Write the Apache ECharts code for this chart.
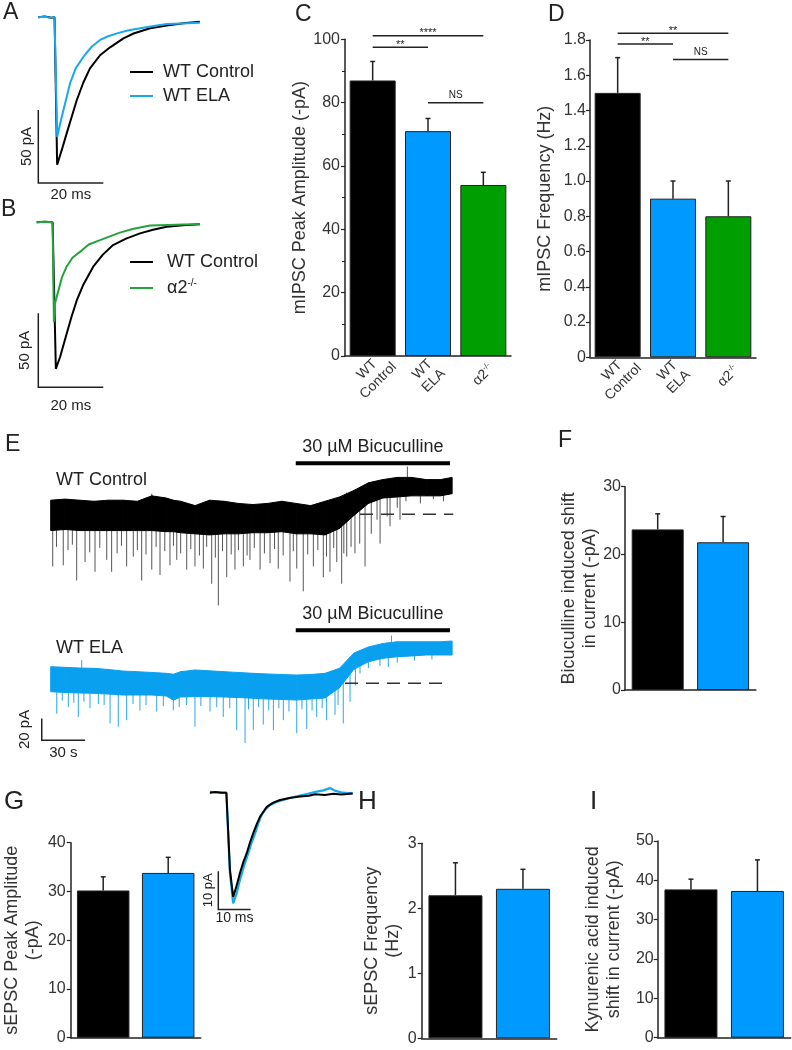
<!DOCTYPE html>
<html><head><meta charset="utf-8">
<script src="https://cdn.jsdelivr.net/npm/echarts@6/dist/echarts.min.js"></script>
<style>html,body{margin:0;padding:0;background:#fff}#c{width:792px;height:1050px}</style>
</head><body><div id="c"></div>
<script>
// ================= DATA =================
// Panels C, D (three groups)
const groups3 = ['WT\nControl', 'WT\nELA', 'α2-/-'];
const cMean = [87, 71, 54];
const cErr  = [93, 75, 58];
const dMean = [1.5, 0.9, 0.8];
const dErr  = [1.7, 1.0, 1.0];
// significance brackets: [fromGroup, toGroup, level]
const cSig = [[0, 2, 101.1], [0, 1, 97.5], [1, 2, 80]];
const cSigText = ['****', '**', 'NS'];
const dSig = [[0, 2, 1.839], [0, 1, 1.777], [1, 2, 1.69]];
const dSigText = ['**', '**', 'NS'];
// Panels F, G, H, I (two groups)
const groups2 = ['WT Control', 'WT ELA'];
const fMean = [23.7, 21.8], fErr = [26.0, 25.6];
const gMean = [30.2, 33.8], gErr = [33, 37];
const hMean = [2.2, 2.3],   hErr = [2.7, 2.6];
const iMean = [37.7, 37.3], iErr = [40.3, 45.2];
// Panel A traces [ms, pA]
const aControl = [[0,0],[2,0.5],[4,-0.3],[5,0],[5.8,-101],[7.2,-91],[8.8,-79],[10.3,-68],[11.8,-57],[13.8,-45],[15.9,-35],[19,-26],[22.2,-20.4],[26.2,-14.4],[29.3,-11.1],[34.4,-7.5],[39.5,-5.7],[44.6,-4.1],[49.7,-3]];
const aELA = [[0,0],[2,0.3],[4,-0.4],[5,0],[5.8,-82],[6.8,-72],[7.8,-63],[8.8,-54],[9.8,-45],[11.5,-35],[13.9,-27],[16.5,-20],[19,-15.5],[21.5,-13],[24.2,-11],[27.5,-9],[31.4,-7.5],[35.5,-6],[39.6,-4.6],[44,-4.2],[49.7,-3.7]];
// Panel B traces [ms, pA]
const bControl = [[-0.5,0],[2,0.3],[4.4,0],[5.4,-99],[6.7,-91],[8.7,-75.5],[10.2,-64],[11.8,-53],[13.8,-42.4],[16.9,-30],[19.8,-22],[23,-15.4],[27,-11],[31.3,-7.5],[35.3,-5],[39.5,-3],[44.5,-2],[49.7,-1.4]];
const bKO = [[-0.5,0],[2,0.3],[4.4,0],[4.8,-67.5],[5.1,-55],[6.2,-46],[7.3,-37],[8.7,-30],[10.5,-24],[12.8,-20],[15.5,-15],[19,-12],[22,-9.5],[25.1,-7],[29,-4.5],[34.4,-2.2],[40,-1.8],[44.5,-1.5],[49.7,-1.4]];
// Panel E recordings: time (s), envelope of the noise band (pA)
const eTime = [0,10,20,30,40,50,60,70,80,85,90,100,110,120,130,140,150,160,170,180,190,200,210,220,230,240,250,260,270,278];
const e1Hi = [13,14,13,12,13,13,12,17,15,13,12,8,13,12,10,9,10,12,10,8,12,16,22,29,32,34,34,32,32,34];
const e1Lo = [-15,-14,-15,-15,-15,-15,-15,-15,-16,-16,-17,-18,-19,-18,-18,-17,-17,-16,-18,-18,-19,-13,-1,10,15,16,17,17,17,19];
const e2Hi = [15.3,14.7,14.1,13.8,12.7,11.3,10.7,10,9.2,8.4,10.7,12.3,11.5,10.7,10,9.2,8.6,8.1,7.6,8.1,9.2,13.8,27.9,33.5,36.7,38.3,38.3,38.3,38.3,39];
const e2Lo = [-7.7,-8.5,-8.9,-9.2,-9.9,-10.8,-10.8,-10.8,-11.7,-15.5,-12.6,-12.3,-12.3,-12.6,-13.1,-13.8,-14.5,-14.9,-15.4,-14.5,-13.5,-4,12.9,19.9,23,24.5,25.2,26.1,26.1,26.1];
// individual events [s, tip pA]
const e1Events = [[1.4,-48],[8.7,-47],[18,-61],[23.8,-44],[30.7,-53],[38.8,-42],[42.2,-53],[52.6,-48],[57.2,-39],[63,-61],[70,-51],[75.7,-56],[82.6,-47],[87.3,-42],[94.2,-51],[99.9,-48],[105.7,-50],[111.5,-64],[116.1,-84],[121.9,-58],[127.6,-51],[133.4,-48],[138,-42],[145,-51],[151.9,-45],[157.6,-50],[165.7,-62],[170.4,-50],[174.9,-71],[181.9,-48],[188.8,-58],[193.4,-53],[198.1,-44],[201.5,-64],[205,-39],[210.7,-36],[217.7,-48],[228.1,-27],[235,-11],[241.9,-5],
  [4,-30],[12,-33],[15,-28],[27,-35],[34,-31],[46,-36],[49,-29],[60,-33],[66,-37],[73,-30],[79,-34],[85,-29],[90,-36],[97,-32],[103,-38],[108,-30],[114,-40],[119,-34],[125,-37],[130,-33],[136,-38],[141,-31],[148,-36],[155,-32],[161,-38],[168,-34],[178,-37],[185,-33],[191,-39],[196,-31],[203,-36],[208,-30],[214,-27],[222,-18],[226,-5],[233,-2],[240,6],[246,12],[256,10],[265,14],[272,12],
  [247,44],[70,19],[205,20]];
const e2Events = [[4.2,-28],[12.2,-22],[19.1,-31],[27.2,-23],[41.1,-37],[46.8,-40],[52.6,-34],[61.8,-25],[73.4,-26],[84.9,-25],[99.9,-40],[110.3,-26],[119.5,-31],[128.8,-43],[134.6,-55],[140.3,-43],[147.2,-38],[154.2,-43],[161.1,-34],[170.4,-46],[177.3,-42],[184.2,-31],[191.1,-34],[196.9,-29],[202.6,-37],[207.3,-17],[214.2,9],[233.8,15],
  [8,-16],[16,-18],[23,-17],[33,-19],[37,-20],[57,-19],[66,-20],[78,-21],[89,-22],[94,-20],[104,-21],[115,-22],[124,-23],[137,-24],[144,-22],[151,-25],[158,-23],[165,-26],[174,-24],[181,-25],[188,-23],[199,-20],[211,-2],[220,14],[228,16],[240,19],[252,21],[264,22],
  [21.5,21.5],[236,44]];
const bicPeriod = [169.7, 276.5];
const e1Baseline = [[214.2,0],[278.8,0]];
const e2Baseline = [[203.8,0],[276.5,0]];
// Panel G inset traces [ms, pA]
const gInsetControl = [[-2.6,0],[-1,0.2],[1,0],[2.5,0],[3.6,-20],[4.6,-27.2],[5.6,-24.5],[6.7,-21],[7.8,-18],[8.8,-15.8],[9.8,-13],[10.8,-10.6],[11.9,-8.2],[12.9,-6.3],[14,-4.9],[15,-3.7],[17,-2.6],[19.1,-1.9],[22,-1.4],[25.3,-1],[28,-0.8],[30,-0.4],[33,-0.6],[35.6,-0.3],[38,-0.5],[41.6,-0.2]];
const gInsetELA = [[-2.6,0.2],[1,0],[2.5,0],[3.6,-21],[4.6,-28.9],[5.6,-26.5],[6.7,-22.8],[8,-19],[9.3,-15.8],[10.3,-13],[11.4,-10.6],[12.4,-8],[13.4,-5.8],[14.7,-4.3],[16,-3.2],[18,-2.4],[20.1,-1.9],[23,-1.2],[26,-0.6],[28,-0.2],[30.5,0.3],[32.5,0.6],[34.6,1.2],[36.5,0.4],[38.5,0],[41.6,-0.2]];

// ================= STYLE =================
const FONT = 'Liberation Sans, Arial, Helvetica, sans-serif';
const INK = '#222';
const COL3 = ['#000000', '#0099ff', '#009e00'];
const COL2 = ['#000000', '#0099ff'];
const TRACE_BLUE = '#18a8ee', TRACE_GREEN = '#24a33c';

const chart = echarts.init(document.getElementById('c'), null, {renderer: 'canvas'});

const grids = [
  {left: 35.05, top: 8.54,   width: 172.25, height: 176.66}, // 0 A
  {left: 35.05, top: 213.42, width: 172.25, height: 176.12}, // 1 B
  {left: 345,   top: 39.3,   width: 166,    height: 316.7},  // 2 C
  {left: 590,   top: 40,     width: 166,    height: 317.3},  // 3 D
  {left: 36.26, top: 460.05, width: 418.76, height: 151.9},  // 4 E1
  {left: 36.26, top: 623.63, width: 418.76, height: 124.78}, // 5 E2
  {left: 625,   top: 486.7,  width: 130.8,  height: 203.3},  // 6 F
  {left: 70.7,  top: 842.7,  width: 130,    height: 195},    // 7 G
  {left: 205.38,top: 781.21, width: 148.58, height: 134.05}, // 8 G inset
  {left: 421.7, top: 843.3,  width: 135,    height: 195},    // 9 H
  {left: 657.7, top: 841,    width: 133,    height: 196.7}   // 10 I
].map(g => Object.assign({containLabel: false, outerBoundsMode: 'none'}, g));

function hiddenX(gi, min, max) { return {gridIndex: gi, type: 'value', min, max, show: false}; }
function hiddenY(gi, min, max) { return {gridIndex: gi, type: 'value', min, max, show: false}; }
const richLab = {
  a: {fontSize: 14, fontFamily: FONT, color: '#333', align: 'center'},
  s: {fontSize: 8, fontFamily: FONT, color: '#333', verticalAlign: 'top', lineHeight: 10}
};
function barX(gi, cats, showLabels) {
  return {gridIndex: gi, type: 'category', data: cats,
    axisLine: {lineStyle: {color: INK, width: 1.5}}, axisTick: {show: false},
    axisLabel: {show: showLabels, rotate: 45, fontSize: 14, color: '#333', fontFamily: FONT, margin: 19,
      align: 'center', verticalAlign: 'middle', lineHeight: 16,
      formatter: v => v === 'α2-/-' ? '{a|α2}{s|-/-}' : v, rich: richLab}};
}
function barY(gi, max, interval, name, nameGap, opts) {
  opts = opts || {};
  return {gridIndex: gi, type: 'value', min: 0, max, interval,
    name, nameLocation: 'middle', nameGap, nameRotate: 90, nameMoveOverlap: false,
    nameTextStyle: {fontSize: 18, color: '#333', fontFamily: FONT, lineHeight: 21},
    axisLine: {show: true, lineStyle: {color: INK, width: 1.5}},
    axisTick: {show: true, length: 4, lineStyle: {color: INK, width: 1.2}},
    minorTick: {show: !!opts.minor, splitNumber: 2, length: 3, lineStyle: {color: INK, width: 1}},
    splitLine: {show: false},
    axisLabel: {fontSize: 16, color: '#333', fontFamily: FONT, margin: opts.margin || 5, formatter: opts.fmt}};
}

const xAxis = [
  hiddenX(0, -1, 52), hiddenX(1, -1, 52),
  barX(2, groups3, true), barX(3, groups3, true),
  hiddenX(4, -10, 280), hiddenX(5, -10, 280),
  barX(6, groups2, false), barX(7, groups2, false),
  hiddenX(8, -4, 42),
  barX(9, groups2, false), barX(10, groups2, false)
];
const yAxis = [
  hiddenY(0, -115, 6), hiddenY(1, -113, 6),
  barY(2, 100, 20, 'mIPSC Peak Amplitude (-pA)', 34, {minor: true, margin: 5}),
  barY(3, 1.8, 0.2, 'mIPSC Frequency (Hz)', 34, {margin: 4, fmt: v => v === 0 ? '0' : v.toFixed(1)}),
  hiddenY(4, -90, 50), hiddenY(5, -60, 55),
  barY(6, 30, 10, 'Bicuculline induced shift\nin current (-pA)', 24, {margin: 4}),
  barY(7, 40, 10, 'sEPSC Peak Amplitude\n(-pA)', 27, {margin: 5}),
  hiddenY(8, -32, 3),
  barY(9, 3, 1, 'sEPSC Frequency\n(Hz)', 18, {margin: 5}),
  barY(10, 50, 10, 'Kynurenic acid induced\nshift in current (-pA)', 33, {margin: 4})
];

// ---------- series builders ----------
function bars(gi, values, colors, width) {
  return {type: 'bar', xAxisIndex: gi, yAxisIndex: gi, barWidth: width, silent: true, z: 2,
    data: values.map((v, i) => ({value: v, itemStyle: {color: colors[i], borderColor: '#222', borderWidth: 1}}))};
}
function errBars(gi, means, errs) {
  return {type: 'custom', xAxisIndex: gi, yAxisIndex: gi, silent: true, z: 1,
    data: means.map((m, i) => [i, m, errs[i]]), encode: {x: 0, y: [1, 2]},
    renderItem: (p, api) => {
      const a = api.coord([api.value(0), api.value(1)]);
      const b = api.coord([api.value(0), api.value(2)]);
      return {type: 'group', children: [
        {type: 'line', shape: {x1: a[0], y1: a[1], x2: b[0], y2: b[1]}, style: {stroke: INK, lineWidth: 1.5}},
        {type: 'line', shape: {x1: b[0] - 2.5, y1: b[1], x2: b[0] + 2.5, y2: b[1]}, style: {stroke: INK, lineWidth: 1.5}}
      ]};
    }};
}
function sigBrackets(gi, sig, texts) {
  return {type: 'custom', xAxisIndex: gi, yAxisIndex: gi, silent: true, clip: false, z: 5,
    data: sig, encode: {x: [0, 1], y: 2},
    renderItem: (p, api) => {
      const a = api.coord([api.value(0), api.value(2)]);
      const b = api.coord([api.value(1), api.value(2)]);
      const t = texts[p.dataIndex];
      const star = t !== 'NS';
      return {type: 'group', children: [
        {type: 'line', shape: {x1: a[0], y1: a[1], x2: b[0], y2: b[1]}, style: {stroke: INK, lineWidth: 1.5}},
        {type: 'text', style: {text: t, x: (a[0] + b[0]) / 2, y: a[1] + (star ? 3 : -2), align: 'center', verticalAlign: 'bottom',
          fontSize: star ? 11 : 10, fontFamily: FONT, fill: INK}}
      ]};
    }};
}
function trace(gi, name, data, color, width, z) {
  return {type: 'line', name, xAxisIndex: gi, yAxisIndex: gi, data, showSymbol: false, symbol: 'none',
    silent: true, z: z || 3, itemStyle: {color}, lineStyle: {color, width: width || 2}};
}
function interp(arr, x) {
  for (let i = 0; i < eTime.length - 1; i++) {
    if (x <= eTime[i + 1]) {
      const f = (x - eTime[i]) / (eTime[i + 1] - eTime[i]);
      return arr[i] + f * (arr[i + 1] - arr[i]);
    }
  }
  return arr[arr.length - 1];
}
function band(gi, lo, hi, color) {
  return {type: 'custom', xAxisIndex: gi, yAxisIndex: gi, silent: true, z: 3,
    data: eTime.map((t, i) => [t, lo[i], hi[i]]), encode: {x: 0, y: [1, 2]},
    renderItem: (p, api) => {
      const i = p.dataIndex;
      if (i >= eTime.length - 1) return null;
      const pts = [api.coord([eTime[i], hi[i]]), api.coord([eTime[i + 1], hi[i + 1]]),
                   api.coord([eTime[i + 1], lo[i + 1]]), api.coord([eTime[i], lo[i]])];
      return {type: 'polygon', shape: {points: pts}, style: {fill: color, stroke: color, lineWidth: 1}};
    }};
}
function events(gi, ev, lo, hi, color) {
  return {type: 'custom', xAxisIndex: gi, yAxisIndex: gi, silent: true, z: 2,
    data: ev, encode: {x: 0, y: 1},
    renderItem: (p, api) => {
      const t = api.value(0), tip = api.value(1);
      const l = interp(lo, t), h = interp(hi, t);
      const base = tip < l ? l + 1 : h - 1;
      const a = api.coord([t, base]), b = api.coord([t, tip]);
      return {type: 'line', shape: {x1: a[0], y1: a[1], x2: b[0], y2: b[1]}, style: {stroke: color, lineWidth: 1}};
    }};
}
function scaleBar(gi, x0, y0, dx, dy, xLab, yLab, o) {
  return {type: 'custom', xAxisIndex: gi, yAxisIndex: gi, silent: true, clip: false, z: 6,
    data: [[x0, y0, dx, dy]], encode: {x: 0, y: 1},
    renderItem: (p, api) => {
      const X = api.value(0), Y = api.value(1), DX = api.value(2), DY = api.value(3);
      const org = api.coord([X, Y]), v = api.coord([X, Y + DY]), h = api.coord([X + DX, Y]);
      return {type: 'group', children: [
        {type: 'polyline', shape: {points: [v, org, h]}, style: {stroke: INK, lineWidth: 1.5, fill: null}},
        {type: 'text', x: org[0] - o.vGap, y: (org[1] + v[1]) / 2, rotation: Math.PI / 2,
          style: {text: yLab, x: 0, y: 0, align: 'center', verticalAlign: 'middle', fontSize: o.vFont, fontFamily: FONT, fill: INK}},
        {type: 'text', style: {text: xLab, x: (org[0] + h[0]) / 2, y: org[1] + o.hGap, align: 'center', verticalAlign: 'middle',
          fontSize: o.hFont, fontFamily: FONT, fill: INK}}
      ]};
    }};
}
function drugBar(gi, period, level, label) {
  return {type: 'custom', xAxisIndex: gi, yAxisIndex: gi, silent: true, clip: false, z: 6,
    data: [[period[0], level, period[1]]], encode: {x: [0, 2], y: 1},
    renderItem: (p, api) => {
      const a = api.coord([api.value(0), api.value(1)]), b = api.coord([api.value(2), api.value(1)]);
      return {type: 'group', children: [
        {type: 'line', shape: {x1: a[0], y1: a[1], x2: b[0], y2: b[1]}, style: {stroke: '#000', lineWidth: 4}},
        {type: 'text', style: {text: label, x: (a[0] + b[0]) / 2, y: a[1] - 16, align: 'center', verticalAlign: 'middle',
          fontSize: 18, fontFamily: FONT, fill: INK}}
      ]};
    }};
}
function dashed(gi, data) {
  return {type: 'line', xAxisIndex: gi, yAxisIndex: gi, data, showSymbol: false, symbol: 'none', silent: true, z: 5,
    lineStyle: {color: '#333', width: 1.5, type: [13, 8]}};
}

const series = [
  // A
  trace(0, 'WT Control', aControl, '#000'),
  trace(0, 'WT ELA', aELA, TRACE_BLUE, 2, 4),
  scaleBar(0, 0, -113.5, 20, 50, '20 ms', '50 pA', {vGap: 11.6, hGap: 11.5, vFont: 15, hFont: 15}),
  // B
  trace(1, 'WT Control', bControl, '#000'),
  trace(1, 'α2-/-', bKO, TRACE_GREEN, 2, 4),
  scaleBar(1, 0, -111.5, 20, 50, '20 ms', '50 pA', {vGap: 13, hGap: 18.5, vFont: 15, hFont: 15}),
  // C
  bars(2, cMean, COL3, 46), errBars(2, cMean, cErr), sigBrackets(2, cSig, cSigText),
  // D
  bars(3, dMean, COL3, 46), errBars(3, dMean, dErr), sigBrackets(3, dSig, dSigText),
  // E
  events(4, e1Events, e1Lo, e1Hi, '#555'), band(4, e1Lo, e1Hi, '#000'), dashed(4, e1Baseline),
  drugBar(4, bicPeriod, 47, '30 µM Bicuculline'),
  events(5, e2Events, e2Lo, e2Hi, '#2aa6ee'), band(5, e2Lo, e2Hi, '#0aa0f0'), dashed(5, e2Baseline),
  drugBar(5, bicPeriod, 49, '30 µM Bicuculline'),
  scaleBar(5, -6.2, -52.5, 30, 20, '30 s', '20 pA', {vGap: 16.7, hGap: 13, vFont: 15, hFont: 15}),
  // F
  bars(6, fMean, COL2, 52), errBars(6, fMean, fErr),
  // G
  bars(7, gMean, COL2, 52.5), errBars(7, gMean, gErr),
  trace(8, 'ELA inset', gInsetELA, TRACE_BLUE, 2.2, 3),
  trace(8, 'Control inset', gInsetControl, '#000', 2, 4),
  scaleBar(8, 0, -30.5, 10, 10, '10 ms', '10 pA', {vGap: 10, hGap: 9, vFont: 13, hFont: 14}),
  // H
  bars(9, hMean, COL2, 54), errBars(9, hMean, hErr),
  // I
  bars(10, iMean, COL2, 53), errBars(10, iMean, iErr)
];

function letter(t, left, top, size) {
  return {text: t, left, top, padding: 0, textStyle: {fontSize: size || 23, fontWeight: 'normal', color: INK, fontFamily: FONT}};
}
const titles = [
  letter('A', 3, 1.5), letter('B', 1, 198.5), letter('C', 295, 3), letter('D', 548, 3),
  letter('E', 5, 433), letter('F', 558, 429), letter('G', 4, 789, 26), letter('H', 358, 789, 26), letter('I', 590, 789, 26),
  {text: 'WT Control', left: 56, top: 471, padding: 0, textStyle: {fontSize: 18, fontWeight: 'normal', color: INK, fontFamily: FONT}},
  {text: 'WT ELA', left: 56, top: 639, padding: 0, textStyle: {fontSize: 18, fontWeight: 'normal', color: INK, fontFamily: FONT}}
];

const legendBase = {orient: 'vertical', icon: 'rect', itemWidth: 23, itemHeight: 2, selectedMode: false, padding: 0};
const option = {
  animation: false,
  backgroundColor: '#fff',
  textStyle: {fontFamily: FONT},
  title: titles,
  legend: [
    Object.assign({}, legendBase, {data: ['WT Control', 'WT ELA'], left: 130, top: 63, itemGap: 6,
      textStyle: {fontSize: 18, color: INK, fontFamily: FONT, padding: [0, 0, 0, 5]}}),
    Object.assign({}, legendBase, {data: ['WT Control', 'α2-/-'], left: 130, top: 253, itemGap: 7,
      formatter: n => n === 'α2-/-' ? '{a|α2}{s|-/-}' : '{a|' + n + '}',
      textStyle: {fontSize: 18, color: INK, fontFamily: FONT, padding: [0, 0, 0, 9],
        rich: {a: {fontSize: 18, fontFamily: FONT, color: INK, lineHeight: 20},
               s: {fontSize: 10, fontFamily: FONT, color: INK, verticalAlign: 'top', lineHeight: 12}}}})
  ],
  grid: grids,
  xAxis, yAxis, series
};
chart.setOption(option);
</script></body></html>
